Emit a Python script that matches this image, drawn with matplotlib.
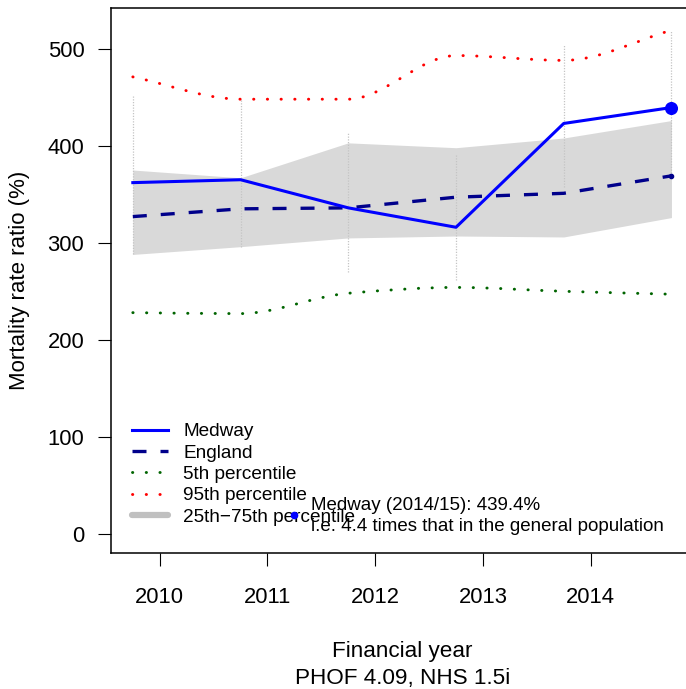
import numpy as np
import matplotlib
matplotlib.use("Agg")
import matplotlib.pyplot as plt
from matplotlib.path import Path
from matplotlib.patches import PathPatch
from matplotlib.lines import Line2D

plt.rcParams['font.family'] = ['Liberation Sans', 'DejaVu Sans']

# financial years (start year) and the values
fy_start = [2009, 2010, 2011, 2012, 2013, 2014]
fy_label = ['2009/10', '2010/11', '2011/12', '2012/13', '2013/14', '2014/15']
medway = [362, 365, 336, 316, 423, 439.4]
england = [327, 335, 336, 347, 351, 369]
pct5 = [228, 227, 248, 254, 250, 247]
pct95 = [471, 448, 448, 493, 488, 519]
pct25 = [288, 296, 305, 307, 306, 326]
pct75 = [375, 367, 403, 398, 408, 426]
ci_low = [288, 296, 270, 262, 357, 372]
ci_high = [451, 447, 414, 391, 504, 518]

xticks = [2010, 2011, 2012, 2013, 2014]
yticks = [0, 100, 200, 300, 400, 500]

# plot each financial year at its midpoint (1 October)
x = np.array(fy_start) + 0.75


def smooth_path(xs, ys):
    """monotone cubic through the points, as bezier segments"""
    xs = np.asarray(xs, float)
    ys = np.asarray(ys, float)
    h = np.diff(xs)
    d = np.diff(ys) / h
    m = np.zeros_like(ys)
    m[0], m[-1] = d[0], d[-1]
    for i in range(1, len(ys) - 1):
        if d[i - 1] * d[i] > 0:
            m[i] = 2 / (1 / d[i - 1] + 1 / d[i])
    verts = [(xs[0], ys[0])]
    codes = [Path.MOVETO]
    for i in range(len(h)):
        verts += [(xs[i] + h[i] / 3, ys[i] + m[i] * h[i] / 3),
                  (xs[i + 1] - h[i] / 3, ys[i + 1] - m[i + 1] * h[i] / 3),
                  (xs[i + 1], ys[i + 1])]
        codes += [Path.CURVE4] * 3
    return Path(verts, codes)


fig = plt.figure(figsize=(6.86, 6.89), dpi=100)
ax = fig.add_axes([0.1622, 0.197, 0.848, 0.7914])

ax.fill_between(x, pct25, pct75, color='#d9d9d9', lw=0, zorder=1)
ax.vlines(x, ci_low, ci_high, colors='#c4c4c4', linestyles=(0, (1, 1.2)),
          lw=0.9, zorder=2)

dot = (0, (0.1, 4.6))
ax.add_patch(PathPatch(smooth_path(x, pct5), fill=False, ec='#006400', lw=2.1,
                       ls=dot, capstyle='round', zorder=3))
ax.add_patch(PathPatch(smooth_path(x, pct95), fill=False, ec='#ff0000', lw=2.1,
                       ls=dot, capstyle='round', zorder=3))

ax.plot(x, england, color='#00008b', lw=2.4, ls=(0, (4.2, 4.2)), zorder=4)
ax.plot(x[-1:], england[-1:], 'o', color='#00008b', ms=3, zorder=4)
ax.plot(x, medway, color='#0000ff', lw=2.2, zorder=5)
ax.plot(x[-1:], medway[-1:], 'o', color='#0000ff', ms=8.4, zorder=6)

# annotation for latest value
ax.plot([2011.25], [19], 'o', color='#0000ff', ms=4.5, zorder=6)
ax.text(2011.40, 18,
        f"Medway ({fy_label[-1]}): {medway[-1]:.1f}%\n"
        f"i.e. {medway[-1] / 100:.1f} times that in the general population",
        ha='left', va='center', fontsize=13.5, linespacing=1.3, zorder=7)

handles = [
    Line2D([], [], color='#0000ff', lw=2.2),
    Line2D([], [], color='#00008b', lw=2.4, ls=(0, (4.2, 4.2))),
    Line2D([], [], color='#006400', lw=2.1, ls=dot, dash_capstyle='round'),
    Line2D([], [], color='#ff0000', lw=2.1, ls=dot, dash_capstyle='round'),
    Line2D([], [], color='#c0c0c0', lw=4.5, solid_capstyle='round'),
]
labels = ['Medway', 'England', '5th percentile', '95th percentile',
          '25th\u221275th percentile']
ax.legend(handles, labels, loc='upper left', bbox_to_anchor=(0.0356, 0.239),
          frameon=False, fontsize=13.7, borderpad=0, borderaxespad=0,
          labelspacing=0.21, handlelength=1.9, handletextpad=0.8)

ax.set_xlim(2009.55, 2014.95)
ax.set_ylim(-20, 542)
ax.set_xticks(xticks)
ax.set_xticklabels([str(t) for t in xticks])
ax.set_yticks(yticks)
ax.tick_params(axis='both', direction='out', length=9.4, width=0.8,
               labelsize=15.8)
ax.tick_params(axis='x', pad=15)
ax.tick_params(axis='y', pad=10)
for s in ax.spines.values():
    s.set_linewidth(1.1)
ax.spines['right'].set_visible(False)

ax.set_ylabel('Mortality rate ratio (%)', fontsize=16)
ax.yaxis.set_label_coords(-0.14, 0.5)
ax.set_xlabel('Financial year\nPHOF 4.09, NHS 1.5i', fontsize=16.2,
              linespacing=1.36)
ax.xaxis.set_label_coords(0.5, -0.161)

fig.savefig('out.png', dpi=100)
